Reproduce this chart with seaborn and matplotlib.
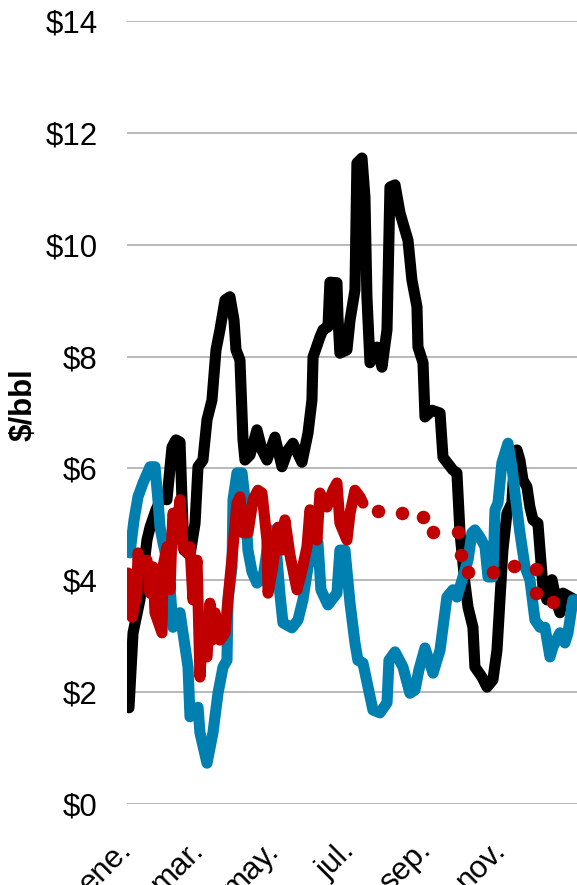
import matplotlib
matplotlib.use("Agg")
import matplotlib.pyplot as plt
import matplotlib.transforms as mtransforms
import numpy as np
import pandas as pd
import seaborn as sns

# Day of year (0 = 1 Jan) and price in $/bbl for each series
black_days = [1.6, 4.9, 10.5, 16.2, 18.7, 23.5, 28.4, 32.4, 36.5, 39.7, 43.0, 44.6, 46.2, 51.1, 55.2,
              57.6, 61.6, 64.9, 68.9, 72.2, 75.4, 79.5, 83.5, 86.8, 88.4, 91.6, 94.1, 95.7, 99.8,
              105.4, 109.5, 113.5, 120.0, 125.7, 130.6, 134.6, 141.9, 146.8, 150.0, 150.9, 156.5,
              159.0, 163.0, 164.6, 170.3, 171.1, 172.7, 178.4, 180.9, 184.9, 186.5, 190.6, 193.0,
              194.6, 197.1, 202.8, 206.8, 210.9, 213.3, 217.4, 221.4, 225.5, 227.9, 231.1, 235.2,
              236.0, 240.1, 241.7, 247.4, 253.9, 256.3, 264.4, 267.6, 270.1, 274.1, 276.6, 280.6,
              282.2, 287.9, 292.0, 296.8, 300.1, 302.5, 304.9, 308.2, 312.2, 313.1, 316.3, 318.7,
              321.2, 324.4, 326.8, 329.3, 333.3, 335.0, 337.4, 340.6, 344.7, 348.7, 351.2, 353.6,
              359.3, 363.3]
black_vals = [1.72, 3.06, 3.65, 4.72, 4.95, 5.26, 5.49, 5.44, 6.38, 6.51, 6.47, 5.44, 4.54, 4.45, 5.02,
              6.03, 6.15, 6.87, 7.22, 8.12, 8.48, 9.01, 9.07, 8.65, 8.12, 7.94, 6.51, 6.15, 6.24,
              6.69, 6.33, 6.15, 6.56, 6.03, 6.33, 6.45, 6.11, 6.63, 7.22, 7.99, 8.35,
              8.48, 8.53, 9.33, 9.32, 8.71, 8.06, 8.12, 8.65, 9.19, 11.46, 11.55, 10.85,
              9.07, 7.89, 8.17, 7.81, 8.48, 11.03, 11.07, 10.57, 10.26, 10.08, 9.37, 8.89,
              8.17, 7.89, 6.92, 7.04, 6.99, 6.20, 5.97, 5.92, 4.85, 3.95, 3.52, 3.16,
              2.45, 2.27, 2.09, 2.22, 2.75, 3.65, 4.54, 5.20, 5.38, 5.74, 6.33, 6.15,
              5.79, 5.67, 5.31, 5.08, 5.02, 4.54, 3.88, 3.65, 4.01, 3.59, 3.42, 3.77,
              3.70, 3.65]

blue_days = [2.4, 5.7, 8.9, 13.0, 18.7, 22.7, 25.1, 26.8, 29.2, 32.4, 34.9, 37.3, 43.0, 45.4, 49.5,
             51.1, 57.6, 59.2, 64.9, 69.7, 73.8, 77.9, 81.1, 81.9, 85.2, 86.0, 89.2, 93.3, 95.7,
             98.1, 101.4, 105.4, 110.3, 116.0, 120.8, 124.1, 126.5, 133.8, 138.7, 142.7, 146.8,
             150.9, 154.9, 157.3, 163.0, 170.3, 172.7, 176.8, 180.9, 184.9, 187.3, 191.4, 195.5,
             199.5, 205.2, 210.9, 212.5, 217.4, 223.8, 229.5, 233.6, 236.8, 241.7, 248.2, 253.9,
             259.5, 264.4, 267.6, 272.5, 276.6, 279.8, 282.2, 286.3, 290.4, 292.8, 296.8, 298.5,
             300.9, 304.1, 309.0, 312.2, 314.7, 318.7, 322.8, 326.8, 330.9, 335.0, 339.0, 343.1,
             345.5, 351.2, 355.2, 357.7, 361.7, 363.3]
blue_vals = [4.49, 5.08, 5.49, 5.74, 6.03, 6.03, 5.44, 4.95, 4.67, 4.36, 3.88, 3.16, 3.42, 3.06, 2.45,
             1.56, 1.73, 1.27, 0.73, 1.27, 1.98, 2.45, 2.57, 3.65, 4.24, 5.44, 5.92, 5.92, 5.44,
             4.54, 4.15, 3.95, 4.04, 4.90, 4.63, 3.74, 3.24, 3.15, 3.29, 3.65, 4.24,
             4.58, 4.67, 3.83, 3.56, 3.77, 4.54, 4.54, 3.59, 2.88, 2.57, 2.52, 2.09,
             1.68, 1.63, 1.81, 2.57, 2.72, 2.45, 1.98, 2.04, 2.40, 2.79, 2.34, 2.75,
             3.70, 3.83, 3.70, 4.06, 4.36, 4.85, 4.90, 4.77, 4.60, 4.06, 4.06, 5.26,
             5.38, 6.10, 6.45, 6.03, 5.56, 4.85, 4.24, 4.01, 3.29, 3.16, 3.16, 2.63,
             2.81, 3.06, 2.88, 3.06, 3.65, 3.65]

red_days = [0.8, 4.1, 8.1, 8.9, 12.2, 16.2, 18.7, 21.1, 22.7, 28.4, 29.2, 32.4, 34.9, 36.5, 37.3,
            40.6, 43.0, 45.4, 48.7, 51.1, 53.5, 56.8, 59.2, 60.8, 64.9, 67.3, 68.9, 71.4, 75.4,
            79.5, 81.9, 86.0, 89.2, 91.6, 94.1, 98.1, 102.2, 106.2, 109.5, 113.5, 114.4, 118.4,
            122.5, 125.7, 128.1, 132.2, 137.9, 141.9, 146.0, 148.4, 154.1, 156.5, 162.2, 167.1,
            170.3, 172.7, 178.4, 180.9, 184.9, 189.0, 191.4]
red_vals = [4.13, 3.34, 3.77, 4.49, 4.24, 4.36, 3.77, 4.24, 3.42, 3.06, 4.24, 4.60, 3.83, 4.85, 5.20,
            4.95, 5.44, 4.60, 4.49, 4.60, 3.65, 4.36, 2.27, 2.93, 2.63, 3.59, 2.93, 3.42, 2.93,
            3.06, 3.65, 4.60, 5.38, 5.49, 4.85, 4.85, 5.44, 5.61, 5.56, 4.72, 3.77, 4.27,
            4.95, 4.54, 5.08, 4.45, 3.83, 4.18, 4.60, 5.26, 4.72, 5.56, 5.31, 5.61,
            5.74, 5.02, 4.72, 5.20, 5.61, 5.49, 5.38]

# Forward points for the rest of the year
fwd_days = [203.6, 223.0, 240.1, 248.2, 268.5, 270.9, 276.6, 296.8, 313.9, 331.7, 332.0, 345.5]
fwd_vals = [5.24, 5.20, 5.13, 4.86, 4.86, 4.45, 4.15, 4.15, 4.26, 4.20, 3.77, 3.61]

month_starts = [0, 59, 120, 181, 243, 304]
month_labels = ["ene.", "mar.", "may.", "jul.", "sep.", "nov."]
y_ticks = [0, 2, 4, 6, 8, 10, 12, 14]
y_labels = [f"${v}" for v in y_ticks]

BLACK = "#000000"
BLUE = "#0080B0"
RED = "#C00000"

sns.set_theme(style="white")
plt.rcParams["font.family"] = ["Liberation Sans", "DejaVu Sans"]
plt.rcParams["text.color"] = "black"
plt.rcParams["xtick.color"] = "black"
plt.rcParams["ytick.color"] = "black"
plt.rcParams["axes.labelcolor"] = "black"

W, H = 577, 885
fig = plt.figure(figsize=(W / 100, H / 100), dpi=100)
ax = fig.add_axes([127 / W, 1 - 804 / H, 450 / W, (804 - 21) / H])

line_kw = dict(linewidth=8.0, solid_joinstyle="round", solid_capstyle="round", legend=False)
sns.lineplot(x=black_days, y=black_vals, color=BLACK, ax=ax, **line_kw)
sns.lineplot(x=blue_days, y=blue_vals, color=BLUE, ax=ax, **line_kw)
sns.lineplot(x=red_days, y=red_vals, color=RED, ax=ax, **line_kw)
sns.scatterplot(x=fwd_days, y=fwd_vals, color=RED, s=95, linewidth=0, ax=ax, legend=False, zorder=5)

ax.set_xlim(0, 365)
ax.set_ylim(0, 14)
ax.set_yticks(y_ticks)
ax.set_yticklabels(y_labels, fontsize=22.5, color="black")
ax.set_xticks(month_starts)
ax.set_xticklabels(month_labels, fontsize=22.5, rotation=45, ha="right",
                   rotation_mode="anchor", va="center", color="black")
offset = mtransforms.ScaledTranslation(9 / 100, 3 / 100, fig.dpi_scale_trans)
for lab in ax.get_xticklabels():
    lab.set_transform(lab.get_transform() + offset)

ax.tick_params(axis="y", length=0, pad=21)
ax.tick_params(axis="x", length=0, pad=30)
ax.yaxis.grid(True, color="#A6A6A6", linewidth=1.1)
ax.xaxis.grid(False)
for sp in ax.spines.values():
    sp.set_visible(False)
ax.set_axisbelow(True)

ax.set_xlabel("")
ax.set_ylabel("$/bbl", fontsize=22.5, fontweight="bold", color="black")
ax.yaxis.set_label_coords(-88 / 450, 0.51)

fig.savefig("out.png", dpi=100)
